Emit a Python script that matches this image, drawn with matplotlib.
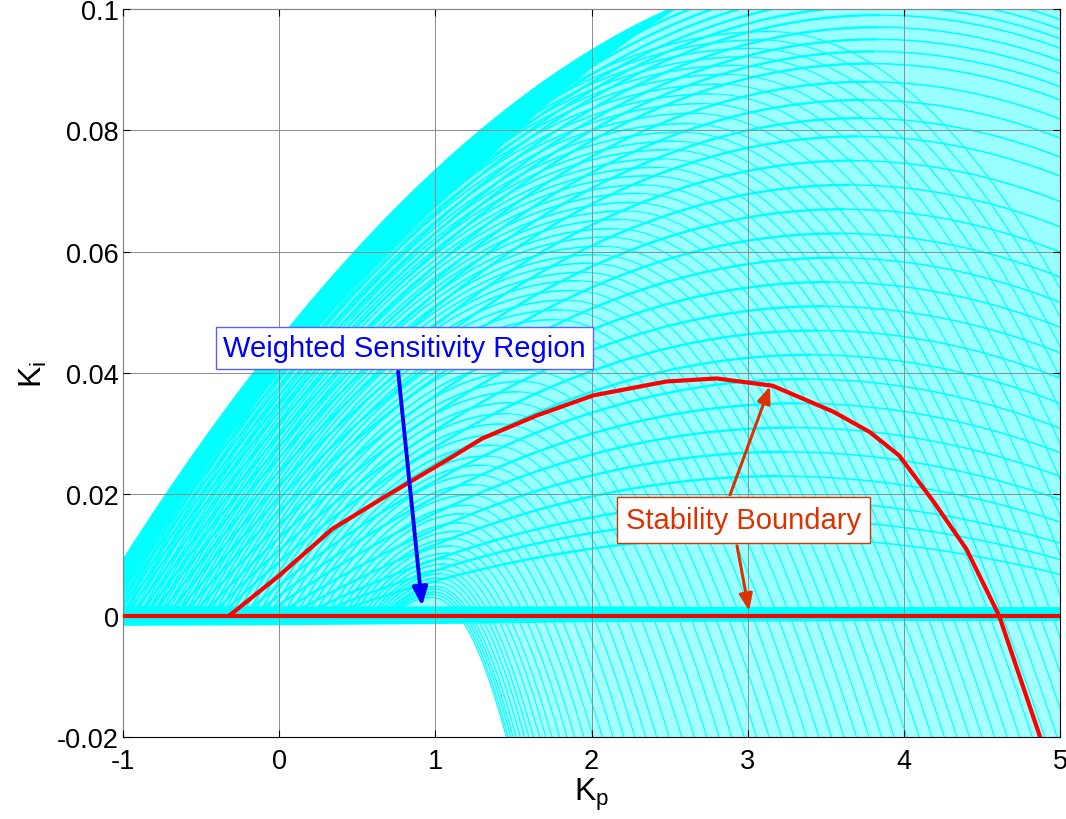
import numpy as np
import matplotlib
matplotlib.use("Agg")
import matplotlib.pyplot as plt

plt.rcParams['font.family'] = ['Liberation Sans', 'DejaVu Sans']
plt.rcParams['axes.unicode_minus'] = False

# Stability boundary in the (Kp, Ki) plane
stab_kp = [-0.32, 0.00, 0.34, 0.69, 1.09, 1.30, 1.65, 2.01, 2.48, 2.80,
           3.16, 3.55, 3.78, 3.97, 4.19, 4.40, 4.61, 4.87, 4.91]
stab_ki = [0.0, 0.0066, 0.0143, 0.0198, 0.0259, 0.0292, 0.0330, 0.0363, 0.0386, 0.0391,
           0.0379, 0.0336, 0.0303, 0.0264, 0.0188, 0.0110, 0.0, -0.0198, -0.0225]

# Weighted sensitivity boundaries, outer family (symmetric arches):
# foot on Ki = 0, top position and top height
outer_foot = [-1.22, -1.20, -1.18, -1.16, -1.14, -1.12, -1.10, -1.07, -1.04, -1.01,
              -0.98, -0.94, -0.90, -0.86, -0.82, -0.77, -0.72, -0.67, -0.62, -0.56,
              -0.50, -0.44, -0.38, -0.31, -0.24, -0.17, -0.10, -0.02, 0.06, 0.14,
              0.22, 0.30]
outer_top_kp = [3.90, 3.89, 3.88, 3.87, 3.86, 3.85, 3.84, 3.83, 3.82, 3.80,
                3.78, 3.76, 3.74, 3.72, 3.70, 3.67, 3.64, 3.61, 3.58, 3.55,
                3.52, 3.48, 3.44, 3.40, 3.36, 3.32, 3.28, 3.24, 3.20, 3.16,
                3.12, 3.08]
outer_top_ki = [0.108, 0.1065, 0.105, 0.1035, 0.102, 0.1005, 0.099, 0.097, 0.095, 0.093,
                0.091, 0.088, 0.085, 0.082, 0.079, 0.075, 0.071, 0.067, 0.063, 0.059,
                0.055, 0.051, 0.047, 0.043, 0.039, 0.035, 0.031, 0.027, 0.023, 0.019,
                0.016, 0.013]

# Inner family: crossing of Ki = 0 on the right, foot on the left, top height
inner_cross = [1.15, 1.17, 1.19, 1.21, 1.23, 1.26, 1.29, 1.32, 1.35, 1.39,
               1.43, 1.47, 1.52, 1.57, 1.62, 1.68, 1.74, 1.80, 1.87, 1.94,
               2.01, 2.08, 2.15, 2.23, 2.31, 2.39, 2.47, 2.55, 2.63, 2.71,
               2.79, 2.87, 2.95, 3.03, 3.11, 3.19, 3.27, 3.35, 3.43, 3.51,
               3.59, 3.67, 3.75, 3.83, 3.91, 3.99, 4.07, 4.15, 4.23, 4.31,
               4.39, 4.47, 4.55, 4.63, 4.71, 4.79, 4.87, 4.95, 5.05, 5.15,
               5.25, 5.35, 5.45, 5.55, 5.65, 5.75, 5.85, 5.95]
inner_foot = [0.720, 0.706, 0.693, 0.679, 0.665, 0.645, 0.624, 0.603, 0.583, 0.555,
              0.528, 0.501, 0.468, 0.438, 0.408, 0.372, 0.336, 0.300, 0.258, 0.216,
              0.175, 0.138, 0.102, 0.060, 0.019, -0.023, -0.064, -0.102, -0.137, -0.172,
              -0.208, -0.243, -0.278, -0.311, -0.340, -0.368, -0.397, -0.426, -0.455, -0.483,
              -0.509, -0.534, -0.560, -0.586, -0.611, -0.637, -0.660, -0.682, -0.704, -0.727,
              -0.749, -0.772, -0.793, -0.814, -0.835, -0.855, -0.876, -0.897, -0.922, -0.943,
              -0.965, -0.987, -1.009, -1.028, -1.044, -1.060, -1.076, -1.092]
inner_top_ki = [0.0030, 0.0035, 0.0039, 0.0044, 0.0048, 0.0055, 0.0062, 0.0069, 0.0076, 0.0085,
                0.0094, 0.0103, 0.0115, 0.0127, 0.0139, 0.0153, 0.0168, 0.0182, 0.0199, 0.0216,
                0.0232, 0.0248, 0.0263, 0.0281, 0.0298, 0.0316, 0.0333, 0.0351, 0.0369, 0.0386,
                0.0404, 0.0421, 0.0439, 0.0456, 0.0472, 0.0488, 0.0504, 0.0520, 0.0536, 0.0552,
                0.0566, 0.0581, 0.0595, 0.0609, 0.0624, 0.0638, 0.0653, 0.0667, 0.0681, 0.0696,
                0.0710, 0.0725, 0.0739, 0.0753, 0.0768, 0.0782, 0.0797, 0.0811, 0.0828, 0.0844,
                0.0860, 0.0876, 0.0892, 0.0907, 0.0921, 0.0935, 0.0949, 0.0963]

# Low-frequency band along Ki = 0
band_kp = [-1, 0, 1, 2, 3, 4, 5]
band_lo = [-0.0016, -0.0015, -0.0013, -0.0010, -0.0009, -0.0008, -0.0008]
band_hi = [0.0017, 0.0016, 0.0016, 0.0016, 0.0015, 0.0015, 0.0015]

xticks = [-1, 0, 1, 2, 3, 4, 5]
xtick_labels = ['-1', '0', '1', '2', '3', '4', '5']
yticks = [-0.02, 0, 0.02, 0.04, 0.06, 0.08, 0.1]
ytick_labels = ['-0.02', '0', '0.02', '0.04', '0.06', '0.08', '0.1']

CYAN = '#00ffff'
ORANGE = '#dc3200'


def arch(foot, top_kp, top_ki, cross, n=200):
    # rising half from the foot to the top, falling half through Ki = 0 and below
    wl = top_kp - foot
    wr = cross - top_kp
    xl = np.linspace(foot, top_kp, n)
    yl = top_ki * (1 - ((top_kp - xl) / wl) ** 2)
    x_end = min(top_kp + wr * np.sqrt(1 + 0.025 / top_ki), 5.3)
    xr = np.linspace(top_kp, x_end, n)
    yr = top_ki * (1 - ((xr - top_kp) / wr) ** 2)
    return (xl, yl), (xr, yr)


def parabola(x, foot, top_kp, top_ki):
    return top_ki * (1 - ((x - top_kp) / (top_kp - foot)) ** 2)


fig = plt.figure(figsize=(10.66, 8.2), dpi=100)
ax = fig.add_axes([123 / 1066, 82 / 820, 937 / 1066, 728 / 820])

# pale wash under the mesh
f0, t0, h0 = outer_foot[0], outer_top_kp[0], outer_top_ki[0]
xe = np.linspace(f0, 5.05, 400)
env = parabola(xe, f0, t0, h0)
ax.fill_between(xe, 0, env, color=CYAN, alpha=0.4, lw=0, zorder=1)

# packed curves along the rising outer edge, thinning out toward the top
f5, t5, h5 = outer_foot[5], outer_top_kp[5], outer_top_ki[5]
edge = np.clip(parabola(xe, f5, t5, h5), 0, None)
taper = np.clip((2.6 - xe) / 1.4, 0, 1)
ax.fill_between(xe, env - (env - edge) * taper, env, color=CYAN, lw=0, zorder=1.2)

fb, cb, hb = inner_foot[0], inner_cross[0], inner_top_ki[0]
tb = fb + 0.6 * (cb - fb)
yt = np.linspace(-0.021, 0, 100)
xt = tb + (cb - tb) * np.sqrt(1 - yt / hb)
ax.fill_betweenx(yt, xt, 5.05, color=CYAN, alpha=0.35, lw=0, zorder=1)

for f, t, h in zip(outer_foot, outer_top_kp, outer_top_ki):
    rise, fall = arch(f, t, h, 2 * t - f)
    ax.plot(*rise, color=CYAN, lw=1.7, zorder=1.5)
    ax.plot(*fall, color=CYAN, lw=1.1, zorder=1.5)

for f, c, h in zip(inner_foot, inner_cross, inner_top_ki):
    t = f + 0.6 * (c - f)
    rise, fall = arch(f, t, h, c)
    ax.plot(*rise, color=CYAN, lw=1.2, zorder=1.5)
    ax.plot(*fall, color=CYAN, lw=0.8, zorder=1.5)

ax.fill_between(band_kp, band_lo, band_hi, color=CYAN, lw=0, zorder=1.6)

# stability boundary
ax.plot([-1, 5], [0, 0], color='red', lw=3.0, zorder=3)
ax.plot(stab_kp, stab_ki, color='red', lw=3.0, zorder=3)

ax.set_xlim(-1, 5)
ax.set_ylim(-0.02, 0.1)
ax.set_xticks(xticks)
ax.set_xticklabels(xtick_labels)
ax.set_yticks(yticks)
ax.set_yticklabels(ytick_labels)
ax.tick_params(direction='in', length=5, width=0.8, labelsize=19.5,
               top=True, right=True)
ax.tick_params(axis='y', pad=3)
ax.tick_params(axis='x', pad=8)
ax.grid(True, color='#8c8c8c', lw=0.7)
ax.set_axisbelow(False)
for s in ax.spines.values():
    s.set_linewidth(0.8)

ax.set_xlabel(r'$\mathregular{K_p}$', fontsize=23, labelpad=1)
ax.set_ylabel(r'$\mathregular{K_i}$', fontsize=23, labelpad=6)

# annotations
ax.annotate('', xy=(0.915, 0.0016), xytext=(0.762, 0.0402),
            arrowprops=dict(arrowstyle='-|>,head_length=1.1,head_width=0.45',
                            color='blue', lw=2.8, shrinkA=0, shrinkB=0), zorder=4)
ax.text(0.803, 0.0441, 'Weighted Sensitivity Region', color='blue', fontsize=21,
        ha='center', va='center', zorder=5,
        bbox=dict(boxstyle='square,pad=0.25', fc='white', ec='#5c5cff', lw=1.0))

for tip in [(3.143, 0.0378), (3.009, 0.0008)]:
    start = (2.887, 0.0199) if tip[1] > 0.02 else (2.932, 0.0115)
    ax.annotate('', xy=tip, xytext=start,
                arrowprops=dict(arrowstyle='-|>,head_length=1.0,head_width=0.4',
                                color=ORANGE, lw=2.2, shrinkA=0, shrinkB=0), zorder=4)
ax.text(2.974, 0.01575, 'Stability Boundary', color=ORANGE, fontsize=21,
        ha='center', va='center', zorder=5,
        bbox=dict(boxstyle='square,pad=0.3', fc='white', ec=ORANGE, lw=1.0))

fig.savefig('out.png', dpi=100)
